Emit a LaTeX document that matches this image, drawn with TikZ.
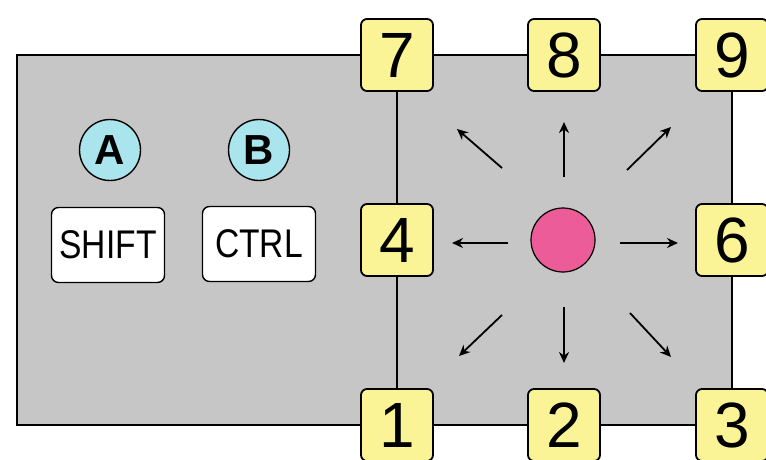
\documentclass[tikz,border=0pt]{standalone}
\usepackage{fontspec}
\setmainfont{Liberation Sans}
\usetikzlibrary{arrows.meta}
\definecolor{panelgray}{RGB}{198,198,198}
\definecolor{keyyellow}{RGB}{250,244,150}
\definecolor{keycyan}{RGB}{170,228,236}
\definecolor{ballpink}{RGB}{236,92,152}
\tikzset{
  numkey/.style={draw=black, line width=1.8pt, fill=keyyellow, rounded corners=6pt,
    minimum width=72pt, minimum height=72pt, inner sep=0pt,
    font=\fontsize{64}{64}\selectfont},
  modkey/.style={draw=black, line width=1.4pt, fill=white, rounded corners=7pt,
    minimum width=113pt, minimum height=75pt, inner sep=0pt,
    font=\fontsize{40}{40}\selectfont},
  letcirc/.style={circle, draw=black, line width=1.4pt, fill=keycyan,
    minimum size=61pt, inner sep=0pt, font=\fontsize{42}{42}\selectfont\bfseries},
  edge/.style={line width=2.2pt, black},
  arr/.style={line width=1.8pt, -{Stealth[length=11pt,width=10pt]}}
}
\begin{document}
\begin{tikzpicture}[x=1pt,y=-1pt]
\useasboundingbox (0,0) rectangle (766,460);
\clip (0,0) rectangle (766,460);
\fill[white] (0,0) rectangle (766,460);
% panel
\fill[panelgray] (17,55) rectangle (732,425);
\coordinate (tl) at (17,55);
\coordinate (bl) at (17,425);
% keys
\node[numkey] (k7) at (397,55) {7};
\node[numkey] (k8) at (564,55) {8};
\node[numkey] (k9) at (732,55) {9};
\node[numkey] (k4) at (397,240) {4};
\node[numkey] (k6) at (732,240) {6};
\node[numkey] (k1) at (397,425) {1};
\node[numkey] (k2) at (564,425) {2};
\node[numkey] (k3) at (732,425) {3};
% edges between keys
\draw[edge] (k7.west) -- (tl) -- (bl) -- (k1.west);
\draw[edge] (k7) -- (k8);
\draw[edge] (k8) -- (k9);
\draw[edge] (k1) -- (k2);
\draw[edge] (k2) -- (k3);
\draw[edge] (k7) -- (k4);
\draw[edge] (k4) -- (k1);
\draw[edge] (k9) -- (k6);
\draw[edge] (k6) -- (k3);
% modifier keys
\node[letcirc] (ca) at (110,150) {A};
\node[letcirc] (cb) at (259,150) {B};
\node[modkey] (shift) at (108,245) {\scalebox{0.84}[1]{SHIFT}};
\node[modkey] (ctrl) at (259,244) {\scalebox{0.84}[1]{CTRL}};
% ball
\node[circle, draw=black, line width=1.2pt, fill=ballpink, minimum size=64pt, inner sep=0pt] (ball) at (563,240) {};
% arrows
\draw[arr] (564,177) -- (564,122);
\draw[arr] (564,307) -- (564,363);
\draw[arr] (508,243) -- (452,243);
\draw[arr] (620,243) -- (678,243);
\draw[arr] (502,168) -- (457,129);
\draw[arr] (627,170) -- (671,127);
\draw[arr] (502,315) -- (459,356);
\draw[arr] (630,313) -- (671,357);
\end{tikzpicture}
\end{document}
